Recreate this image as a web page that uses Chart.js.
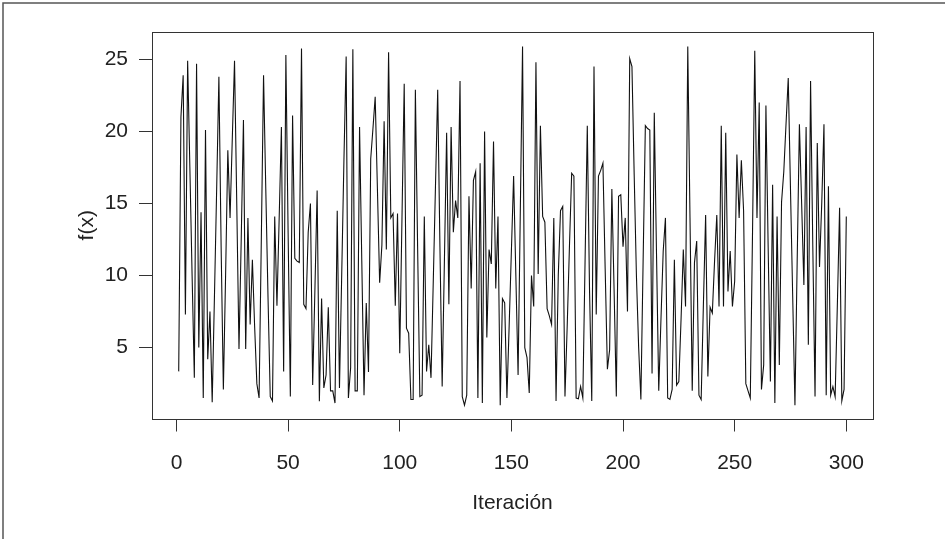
<!DOCTYPE html>
<html>
<head>
<meta charset="utf-8">
<script src="https://cdn.jsdelivr.net/npm/chart.js@4.4.1/dist/chart.umd.min.js"></script>
<style>
  html, body { margin: 0; padding: 0; background: #fff; }
  canvas { display: block; }
</style>
</head>
<body>
<canvas id="fx-chart" width="945" height="539"></canvas>
<script>
// valores de f(x) por iteración (1..300)
const fx = [
  3.35, 21.0, 23.9, 7.3, 24.9, 17.5, 10.0, 2.9, 24.7, 5.0,
  14.4, 1.5, 20.1, 4.2, 7.5, 1.2, 8.5, 16.0, 23.8, 12.0,
  2.1, 10.0, 18.7, 14.0, 19.5, 24.9, 15.0, 4.9, 12.5, 20.8,
  4.9, 14.0, 6.6, 11.1, 6.5, 2.5, 1.5, 12.5, 23.9, 16.0,
  8.5, 1.6, 1.3, 14.1, 7.9, 14.0, 20.3, 3.35, 25.3, 13.0,
  1.6, 21.1, 11.2, 11.0, 10.9, 25.75, 8.0, 7.7, 13.0, 15.0,
  2.4, 9.0, 15.9, 1.27, 8.4, 2.2, 3.1, 7.8, 2.0, 2.0,
  1.15, 14.5, 2.2, 10.0, 18.0, 25.2, 1.5, 3.6, 25.7, 2.0,
  2.0, 20.3, 11.0, 1.7, 8.1, 3.3, 18.1, 20.2, 22.4, 16.0,
  9.5, 12.1, 20.7, 11.8, 25.5, 14.0, 14.3, 7.9, 14.3, 4.6,
  14.0, 23.3, 6.35, 6.0, 1.4, 1.4, 22.9, 12.0, 1.6, 1.7,
  14.1, 3.35, 5.2, 2.9, 9.5, 16.2, 22.9, 12.0, 2.3, 11.0,
  19.9, 8.0, 20.3, 13.0, 15.2, 14.0, 23.5, 1.6, 1.0, 1.7,
  15.5, 9.1, 16.6, 17.2, 1.5, 17.8, 1.15, 20.0, 5.7, 11.8,
  10.8, 19.3, 9.1, 14.1, 1.0, 8.4, 8.1, 1.5, 6.5, 11.7,
  16.9, 10.0, 3.1, 14.5, 25.9, 5.0, 4.3, 1.85, 10.0, 7.85,
  24.8, 10.1, 20.4, 14.1, 13.7, 7.7, 7.2, 6.6, 14.0, 1.3,
  10.0, 14.5, 14.8, 1.6, 6.5, 12.0, 17.1, 16.9, 1.5, 1.45,
  2.3, 1.5, 11.0, 20.4, 9.0, 1.3, 24.5, 7.3, 16.9, 17.3,
  17.8, 10.5, 3.5, 4.85, 16.0, 9.0, 1.6, 15.5, 15.6, 12.0,
  14.0, 7.5, 25.05, 24.5, 17.0, 10.0, 5.0, 1.4, 11.0, 20.4,
  20.2, 20.1, 3.2, 21.3, 11.5, 2.0, 7.0, 11.7, 14.0, 1.5,
  1.4, 2.1, 11.1, 2.4, 2.65, 7.0, 11.8, 7.85, 25.9, 14.0,
  2.0, 10.9, 12.4, 1.7, 1.4, 8.0, 14.2, 3.0, 7.8, 7.4,
  11.0, 14.2, 7.85, 20.4, 7.85, 19.9, 8.9, 11.7, 7.85, 9.6,
  18.4, 14.0, 18.0, 14.5, 2.5, 2.0, 1.5, 13.0, 25.6, 14.0,
  22.0, 2.1, 3.8, 21.8, 12.0, 2.65, 16.3, 1.15, 14.1, 3.8,
  15.1, 17.2, 20.5, 23.7, 16.0, 8.5, 1.0, 11.0, 20.5, 15.0,
  9.35, 20.3, 5.2, 23.5, 12.0, 1.6, 19.2, 10.6, 15.0, 20.5,
  1.7, 16.2, 1.7, 2.3, 1.6, 8.0, 14.7, 1.3, 2.1, 14.1
];
const xTicks = [0, 50, 100, 150, 200, 250, 300];
const yTicks = [5, 10, 15, 20, 25];
const xLabel = "Iteración";
const yLabel = "f(x)";

const points = fx.map((v, k) => ({ x: k + 1, y: v }));
const textFont = { family: "'Liberation Sans Narrow', 'Arial Narrow', sans-serif", size: 21 };
const inkColor = '#222';

// caja del gráfico y marco exterior
const framePlugin = {
  id: 'frame',
  afterDraw(chart) {
    const { ctx, chartArea: a } = chart;
    ctx.save();
    ctx.strokeStyle = '#333';
    ctx.lineWidth = 1;
    ctx.strokeRect(Math.round(a.left) + 0.5, Math.round(a.top) + 0.5,
      Math.round(a.right - a.left), Math.round(a.bottom - a.top));
    ctx.strokeStyle = '#555';
    ctx.lineWidth = 1.5;
    ctx.beginPath();
    ctx.moveTo(3, chart.height);
    ctx.lineTo(3, 3);
    ctx.lineTo(chart.width, 3);
    ctx.stroke();
    ctx.restore();
  }
};

new Chart(document.getElementById('fx-chart').getContext('2d'), {
  type: 'line',
  data: {
    datasets: [{
      data: points,
      borderColor: '#111',
      borderWidth: 1.1,
      pointRadius: 0,
      tension: 0,
      fill: false
    }]
  },
  options: {
    responsive: false,
    animation: false,
    devicePixelRatio: 1,
    layout: { padding: { top: 32, right: 72, left: 0, bottom: 0 } },
    plugins: { legend: { display: false }, tooltip: { enabled: false } },
    scales: {
      x: {
        type: 'linear',
        min: -10.96,
        max: 311.96,
        afterBuildTicks: axis => { axis.ticks = xTicks.map(v => ({ value: v })); },
        afterFit: axis => { axis.height = 539 - 418.5; },
        grid: { drawOnChartArea: false, drawTicks: true, tickLength: 13, color: '#333', lineWidth: 1 },
        border: { display: false },
        ticks: { font: textFont, color: inkColor, padding: 19, maxRotation: 0, autoSkip: false },
        title: { display: true, text: xLabel, font: textFont, color: inkColor, padding: { top: 0, bottom: 23 } }
      },
      y: {
        type: 'linear',
        min: 0.08,
        max: 26.9,
        afterBuildTicks: axis => { axis.ticks = yTicks.map(v => ({ value: v })); },
        afterFit: axis => { axis.width = 152; },
        grid: { drawOnChartArea: false, drawTicks: true, tickLength: 13, color: '#333', lineWidth: 1 },
        border: { display: false },
        ticks: { font: textFont, color: inkColor, padding: 11 },
        title: { display: true, text: yLabel, font: textFont, color: inkColor, padding: { top: 75, bottom: 0 } }
      }
    }
  },
  plugins: [framePlugin]
});
</script>
</body>
</html>
